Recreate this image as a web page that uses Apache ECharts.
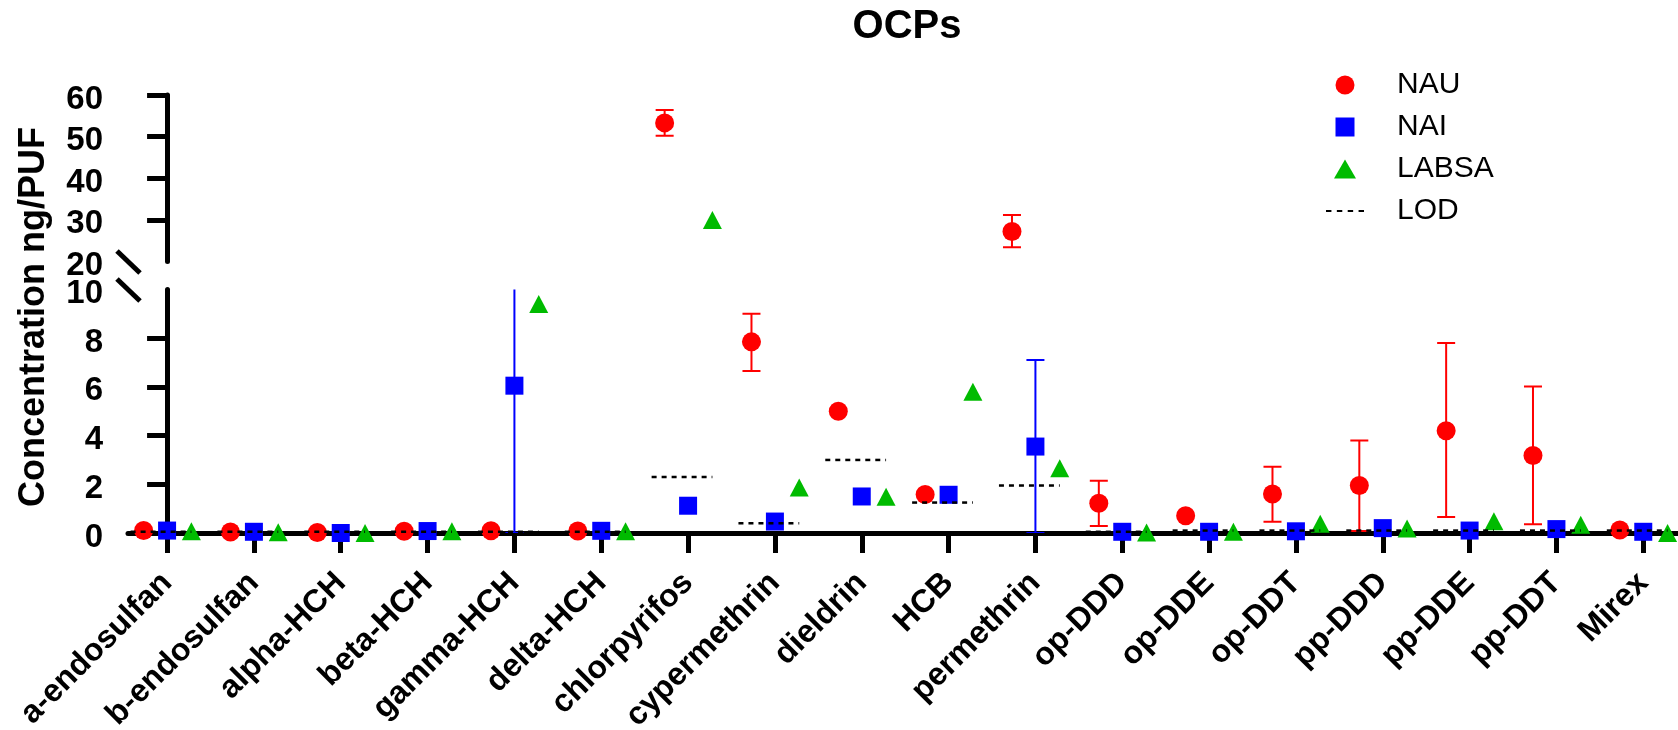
<!DOCTYPE html>
<html>
<head>
<meta charset="utf-8">
<title>OCPs</title>
<script src="https://cdn.jsdelivr.net/npm/echarts@6/dist/echarts.min.js"></script>
<style>
  html, body { margin: 0; padding: 0; background: #fff; }
  #ocp_chart { width: 1678px; height: 730px; }
</style>
</head>
<body>
<div id="ocp_chart"></div>
<script>
// categories on the x axis
var categories = ['a-endosulfan', 'b-endosulfan', 'alpha-HCH', 'beta-HCH', 'gamma-HCH', 'delta-HCH',
    'chlorpyrifos', 'cypermethrin', 'dieldrin', 'HCB', 'permethrin', 'op-DDD', 'op-DDE', 'op-DDT',
    'pp-DDD', 'pp-DDE', 'pp-DDT', 'Mirex'];

// NAU: mean and error bar ends (null = no bar)
var nauMean = [0.10, 0.04, 0.02, 0.07, 0.09, 0.08, 53.3, 7.85, 5.0, 1.58, 27.2, 1.22, 0.71, 1.60, 1.95, 4.20, 3.18, 0.12];
var nauLow  = [null, null, null, null, null, null, 50.2, 6.65, null, null, 23.4, 0.29, null, 0.46, 0.08, 0.66, 0.36, null];
var nauHigh = [null, null, null, null, null, null, 56.4, 9.00, null, null, 31.2, 2.15, null, 2.72, 3.80, 7.80, 6.02, null];

// NAI
var naiMean = [0.10, 0.05, 0.00, 0.08, 6.05, 0.09, 1.12, 0.47, 1.50, 1.57, 3.55, 0.05, 0.05, 0.07, 0.20, 0.10, 0.16, 0.05];
var naiLow  = [null, null, null, null, 0.00, null, null, null, null, null, 0.00, null, null, null, null, null, null, null];
var naiHigh = [null, null, null, null, 11.0, null, null, null, null, null, 7.10, null, null, null, null, null, null, null];

// LABSA
var labsaMean = [0.07, 0.03, 0.00, 0.07, 9.40, 0.07, 30.0, 1.87, 1.49, 5.80, 2.66, 0.02, 0.05, 0.38, 0.18, 0.48, 0.34, 0.00];

// limit of detection
var lodValues = [0.05, 0.05, 0.05, 0.05, 0.05, 0.05, 2.30, 0.40, 3.00, 1.25, 1.95, 0.05, 0.10, 0.10, 0.10, 0.10, 0.10, 0.10];

// axis ticks for the two parts of the broken y axis
var upperTicks = [20, 30, 40, 50, 60];
var lowerTicks = [0, 2, 4, 6, 8, 10];

var BREAK_AT = 15;   // values above this go to the upper panel
var FONT = 'Liberation Sans, Arial, sans-serif';
var RED = '#ff0000', BLUE = '#0000ff', GREEN = '#00bb00';

function scatterPoints(vals, off, upper) {
    var out = [];
    vals.forEach(function (v, i) {
        if (v == null) return;
        if ((v >= BREAK_AT) === upper) out.push([i + off, v]);
    });
    return out;
}
function errPoints(mean, low, high, off, upper) {
    var out = [];
    mean.forEach(function (v, i) {
        if (low[i] == null) return;
        if ((v >= BREAK_AT) === upper) out.push([i + off, low[i], high[i]]);
    });
    return out;
}
function renderErr(params, api) {
    var x = api.value(0);
    var hi = api.coord([x, api.value(2)]);
    var lo = api.coord([x, api.value(1)]);
    var hw = 9;
    var st = { stroke: api.visual('color'), lineWidth: 2, fill: null };
    return {
        type: 'group',
        children: [
            { type: 'line', shape: { x1: hi[0], y1: hi[1], x2: lo[0], y2: lo[1] }, style: st },
            { type: 'line', shape: { x1: hi[0] - hw, y1: hi[1], x2: hi[0] + hw, y2: hi[1] }, style: st },
            { type: 'line', shape: { x1: lo[0] - hw, y1: lo[1], x2: lo[0] + hw, y2: lo[1] }, style: st }
        ]
    };
}
function renderLod(params, api) {
    var x = api.value(0), v = api.value(1);
    var a = api.coord([x - 0.42, v]);
    var b = api.coord([x + 0.28, v]);
    return {
        type: 'line',
        shape: { x1: a[0], y1: a[1], x2: b[0], y2: b[1] },
        style: { stroke: '#000', lineWidth: 2.5, lineDash: [5, 5] }
    };
}

var catIdx = categories.map(function (c, i) { return i; });
var OFF_NAU = -0.27, OFF_NAI = 0, OFF_LABSA = 0.28;

var series = [];
[true, false].forEach(function (upper) {
    var gi = upper ? 0 : 1;
    series.push({ name: 'NAU', type: 'scatter', xAxisIndex: gi, yAxisIndex: gi, symbol: 'circle', symbolSize: 19,
        itemStyle: { color: RED, opacity: 1 }, data: scatterPoints(nauMean, OFF_NAU, upper), z: 3 });
    series.push({ name: 'NAI', type: 'scatter', xAxisIndex: gi, yAxisIndex: gi, symbol: 'rect', symbolSize: 18,
        itemStyle: { color: BLUE, opacity: 1 }, data: scatterPoints(naiMean, OFF_NAI, upper), z: 3 });
    series.push({ name: 'LABSA', type: 'scatter', xAxisIndex: gi, yAxisIndex: gi, symbol: 'triangle', symbolSize: [19, 18],
        itemStyle: { color: GREEN, opacity: 1 }, data: scatterPoints(labsaMean, OFF_LABSA, upper), z: 3 });
    series.push({ name: 'NAU err', type: 'custom', xAxisIndex: gi, yAxisIndex: gi, renderItem: renderErr, clip: true,
        itemStyle: { color: RED }, data: errPoints(nauMean, nauLow, nauHigh, OFF_NAU, upper), z: 2 });
    series.push({ name: 'NAI err', type: 'custom', xAxisIndex: gi, yAxisIndex: gi, renderItem: renderErr, clip: true,
        itemStyle: { color: BLUE }, data: errPoints(naiMean, naiLow, naiHigh, OFF_NAI, upper), z: 2 });
});
series.push({ name: 'LOD', type: 'custom', xAxisIndex: 1, yAxisIndex: 1, renderItem: renderLod, z: 5,
    itemStyle: { color: '#000' },
    data: lodValues.map(function (v, i) { return [i, v]; }) });

var xBase = {
    type: 'value', min: -0.45, max: 17.4,
    splitLine: { show: false }
};
// tick labels sit a little below their ticks in the original
var yLabel = { margin: 25, color: '#000', fontSize: 33, fontWeight: 'bold', fontFamily: FONT,
    verticalAlign: 'top', lineHeight: 9 };

var myChart = echarts.init(document.getElementById('ocp_chart'));
var option = {
    animation: false,
    backgroundColor: '#fff',
    grid: [
        { left: 128, right: 0, top: 95, height: 166.5 },
        { left: 128, right: 0, top: 289.5, height: 243.5 }
    ],
    xAxis: [
        Object.assign({}, xBase, { gridIndex: 0, show: false }),
        Object.assign({}, xBase, {
            gridIndex: 1,
            axisLine: { show: true, lineStyle: { color: '#000', width: 5 } },
            axisTick: { show: true, length: 20, lineStyle: { color: '#000', width: 5 }, customValues: catIdx },
            axisLabel: { show: false }
        })
    ],
    yAxis: [
        {
            gridIndex: 0, type: 'value', min: 20, max: 60, interval: 10,
            splitLine: { show: false },
            axisLine: { show: true, lineStyle: { color: '#000', width: 5 } },
            axisTick: { show: true, length: 20, lineStyle: { color: '#000', width: 5 }, customValues: upperTicks.slice(1) },
            axisLabel: Object.assign({ customValues: upperTicks }, yLabel)
        },
        {
            gridIndex: 1, type: 'value', min: 0, max: 10, interval: 2,
            splitLine: { show: false },
            axisLine: { show: true, lineStyle: { color: '#000', width: 5 } },
            axisTick: { show: true, length: 20, lineStyle: { color: '#000', width: 5 }, customValues: lowerTicks.slice(0, -1) },
            axisLabel: Object.assign({ customValues: lowerTicks }, yLabel)
        }
    ],
    legend: {
        orient: 'vertical',
        left: 1321, top: 64,
        itemWidth: 38, itemHeight: 19, itemGap: 10,
        textStyle: { color: '#000', fontSize: 30, fontFamily: FONT, padding: [0, 0, 0, 28], lineHeight: 32 },
        data: [
            { name: 'NAU' },
            { name: 'NAI', icon: 'path://M0,0h10v10h-10z' },
            { name: 'LABSA', icon: 'path://M5,0L10.5,9.5L-0.5,9.5z' },
            { name: 'LOD', icon: 'path://M0,0h5v2h-5z M10,0h5v2h-5z M20,0h5v2h-5z M30,0h5v2h-5z', itemStyle: { color: '#000' } }
        ]
    },
    graphic: [
        { type: 'text', x: 907, y: 27, style: { text: 'OCPs', align: 'center', verticalAlign: 'middle', fill: '#000',
            font: 'bold 40px ' + FONT } },
        { type: 'text', x: 34, y: 317, rotation: Math.PI / 2, style: { text: 'Concentration ng/PUF', align: 'center',
            verticalAlign: 'middle', fill: '#000', font: 'bold 36px ' + FONT } },
        // axis break marks
        { type: 'line', shape: { x1: 117, y1: 251, x2: 140, y2: 273 }, style: { stroke: '#000', lineWidth: 5 }, z: 10 },
        { type: 'line', shape: { x1: 117, y1: 279, x2: 140, y2: 301 }, style: { stroke: '#000', lineWidth: 5 }, z: 10 }
    ],
    series: series
};
myChart.setOption(option);

// category labels, rotated 45 degrees, placed at the x axis ticks
var catLabels = categories.map(function (name, i) {
    var p = myChart.convertToPixel({ xAxisIndex: 1, yAxisIndex: 1 }, [i, 0]);
    return {
        type: 'text', x: p[0], y: p[1] + 45, rotation: Math.PI / 4,
        style: { text: name, align: 'right', verticalAlign: 'middle', fill: '#000', font: 'bold 32px ' + FONT }
    };
});
myChart.setOption({ graphic: option.graphic.concat(catLabels) });
</script>
</body>
</html>
